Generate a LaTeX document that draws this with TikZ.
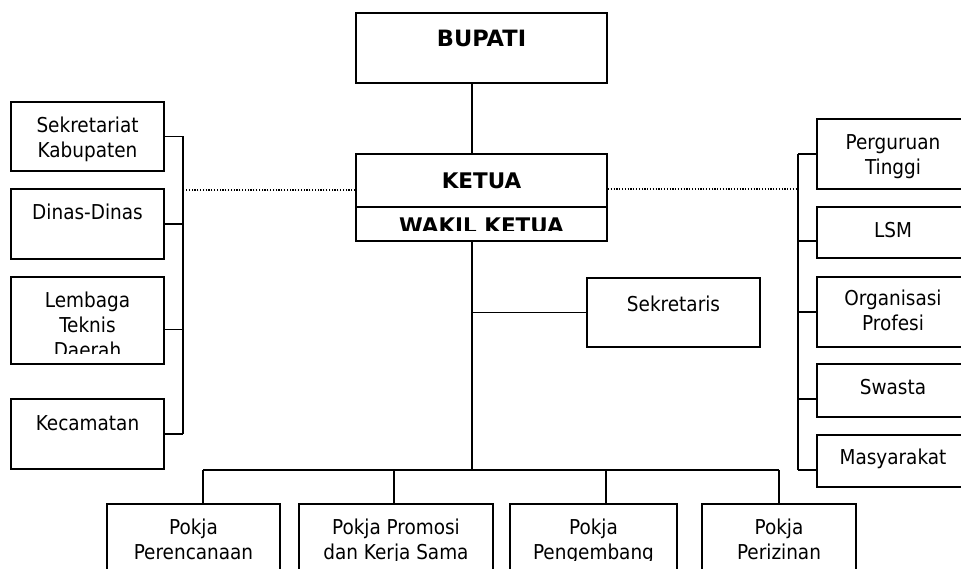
\documentclass[tikz,border=0pt]{standalone}
\usepackage{fontspec}
\setmainfont{DejaVu Sans Condensed}
\newfontfamily\headfont{DejaVu Sans}
\usetikzlibrary{positioning}
\tikzset{
  box/.style={draw=black, line width=1.8pt, inner sep=0pt},
  unit/.style 2 args={box, minimum width=#1pt, minimum height=#2pt},
  lbl/.style={inner sep=0pt, anchor=north, align=center, font=\fontsize{20.5}{25}\selectfont},
  hd/.style={lbl, font=\headfont\bfseries\fontsize{21.5}{25}\selectfont},
  link/.style={draw, line width=1.8pt},
  dotline/.style={line width=1.2pt, dash pattern=on 1.2pt off 1.6pt}
}

\begin{document}
\begin{tikzpicture}[x=1pt, y=-1pt]
\useasboundingbox (0,0) rectangle (961,569);

% centre column
\node[unit={251}{70}] (bup) at (481.5,48) {};
\node[unit={251}{53}] (ket) at (481.5,180.5) {};
\node[unit={251}{34}] (wak) at (481.5,224) {};
\node[unit={173}{69}] (skr) at (673.5,312.5) {};
\node[hd, below=17pt of bup.north, font=\headfont\bfseries\fontsize{22.5}{25}\selectfont] (bupT) {\strut BUPATI};
\node[hd, below=17.5pt of ket.north] (ketT) {\strut KETUA};
\begin{scope}
  \clip (wak.north west) rectangle ([yshift=11pt]wak.south east);
  \node[hd, below=10pt of wak.north] (wakT) {\strut WAKIL KETUA};
\end{scope}
\node[lbl, below=17pt of skr.north] (skrT) {\strut Sekretaris};

% left column
\node[unit={153}{69}] (sek) at (87.5,136.5) {};
\node[unit={153}{70}] (din) at (87.5,224) {};
\node[unit={153}{87}] (lem) at (87.5,320.5) {};
\node[unit={153}{70}] (kec) at (87.5,434) {};
\node[lbl, below=14pt of sek.north] (sekT) {\strut Sekretariat\\Kabupaten};
\node[lbl, below=13.5pt of din.north] (dinT) {\strut Dinas-Dinas};
\begin{scope}
  \clip (lem.north west) rectangle ([yshift=11pt]lem.south east);
  \node[lbl, below=13.5pt of lem.north] (lemT) {\strut Lembaga\\Teknis\\Daerah};
\end{scope}
\node[lbl, below=15pt of kec.north] (kecT) {\strut Kecamatan};

% right column
\node[unit={152}{70}] (perg) at (893,154) {};
\node[unit={152}{51}] (lsm) at (893,232.5) {};
\node[unit={152}{70}] (org) at (893,312) {};
\node[unit={152}{53}] (swa) at (893,390.5) {};
\node[unit={152}{52}] (mas) at (893,461) {};
\node[lbl, below=14pt of perg.north] (pergT) {\strut Perguruan\\Tinggi};
\node[lbl, below=13.5pt of lsm.north] (lsmT) {\strut LSM};
\node[lbl, below=12pt of org.north] (orgT) {\strut Organisasi\\Profesi};
\node[lbl, below=13.5pt of swa.north] (swaT) {\strut Swasta};
\node[lbl, below=12.5pt of mas.north] (masT) {\strut Masyarakat};

% working groups
\node[unit={173}{80}] (per) at (193.5,544) {};
\node[unit={194}{80}] (pro) at (396,544) {};
\node[unit={167}{80}] (pen) at (593.5,544) {};
\node[unit={154}{80}] (piz) at (779,544) {};
\begin{scope}
  \clip (0,500) rectangle (961,560);
  \node[lbl, below=13.5pt of per.north] (perT) {\strut Pokja\\Perencanaan};
  \node[lbl, below=13.5pt of pro.north] (proT) {\strut Pokja Promosi\\dan Kerja Sama};
  \node[lbl, below=13.5pt of pen.north] (penT) {\strut Pokja\\Pengembang};
  \node[lbl, below=13.5pt of piz.north] (pizT) {\strut Pokja\\Perizinan};
\end{scope}

% lines
\coordinate (spine) at (472,470);
\coordinate (lb) at (183,190);
\coordinate (rb) at (798,189);
\coordinate (d1) at (203,470);
\coordinate (d2) at (394,470);
\coordinate (d3) at (606,470);
\coordinate (d4) at (779,470);
\draw[link] (bup.south -| spine) -- (ket.north -| spine);
\draw[link] (wak.south -| spine) -- (spine);
\draw[link] (skr.west) -- (skr.west -| spine);
\draw[link] (d1) -- (d4);
\foreach \d/\b in {d1/per,d2/pro,d3/pen,d4/piz}
  \draw[link] (\d) -- (\d |- \b.north);

\draw[link] (sek.east -| lb) -- (kec.east -| lb);
\foreach \b/\s in {sek/0,din/0,lem/-9,kec/0}
  \draw[link] ([yshift=\s pt]\b.east) -- ([yshift=\s pt]\b.east -| lb);

\draw[link] (perg.west -| rb) -- ([yshift=-9pt]mas.west -| rb);
\foreach \b/\s in {perg/0,lsm/-8.5,org/0,swa/-8.5,mas/-9}
  \draw[link] ([yshift=\s pt]\b.west) -- ([yshift=\s pt]\b.west -| rb);

\draw[dotline] ([yshift=-9.5pt]ket.west) -- ([yshift=-9.5pt]ket.west -| lb);
\draw[dotline] ([yshift=-8.5pt]ket.east) -- ([yshift=-8.5pt]ket.east -| rb);

\end{tikzpicture}
\end{document}
